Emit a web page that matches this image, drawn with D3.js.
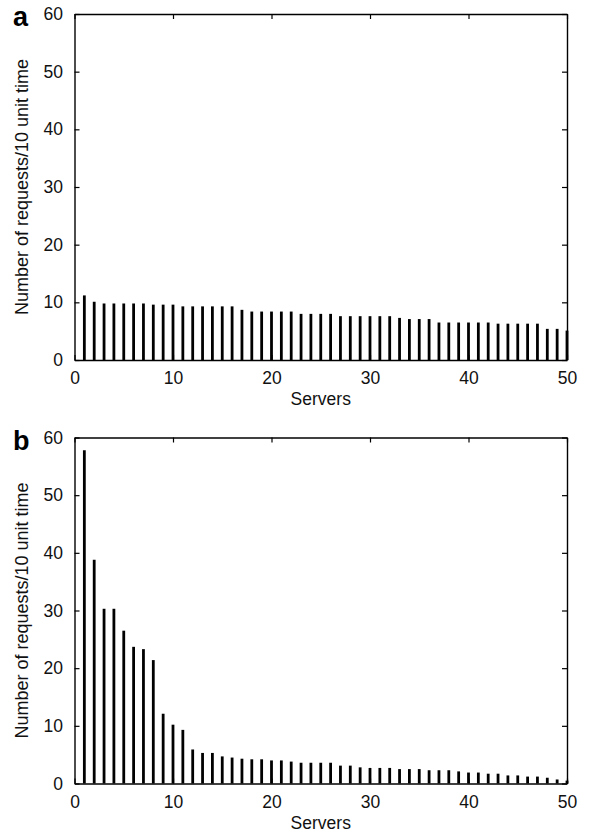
<!DOCTYPE html>
<html>
<head>
<meta charset="utf-8">
<script src="https://cdn.jsdelivr.net/npm/d3@7"></script>
<style>
  html, body { margin: 0; padding: 0; background: #fff; }
  svg { display: block; font-family: "Liberation Sans", Arial, sans-serif; }
</style>
</head>
<body>
<svg id="chart" width="591" height="833"></svg>
<script>
// ---- data ----
const servers = [1,2,3,4,5,6,7,8,9,10,11,12,13,14,15,16,17,18,19,20,21,22,23,24,25,
                 26,27,28,29,30,31,32,33,34,35,36,37,38,39,40,41,42,43,44,45,46,47,48,49,50];
const requestsA = [11.2,10.1,9.8,9.8,9.8,9.8,9.8,9.6,9.6,9.6,9.3,9.3,9.3,9.3,9.3,9.3,8.7,8.4,8.4,8.4,
                   8.4,8.4,8.0,8.0,8.0,8.0,7.6,7.6,7.6,7.6,7.6,7.6,7.3,7.1,7.1,7.1,6.5,6.5,6.5,6.5,
                   6.5,6.5,6.3,6.3,6.3,6.3,6.3,5.4,5.4,5.1];
const requestsB = [57.8,38.8,30.3,30.3,26.5,23.7,23.3,21.4,12.1,10.2,9.3,5.9,5.3,5.3,4.7,4.5,4.3,4.2,4.2,4.0,
                   4.0,3.8,3.6,3.6,3.6,3.6,3.1,3.1,2.8,2.7,2.7,2.7,2.5,2.5,2.5,2.3,2.3,2.3,2.1,1.9,
                   1.9,1.7,1.7,1.4,1.4,1.2,1.2,1.0,0.7,0.5];
const xTicks = [0,10,20,30,40,50];
const yTicks = [0,10,20,30,40,50,60];
const panelLabels = ["a","b"];
const xTitle = "Servers";
const yTitle = "Number of requests/10 unit time";

const svg = d3.select("#chart");
const FS = "17.5px";

function panel(values, label, top) {
  const left = 74.5, right = 567, bottom = top + 346;
  const x = d3.scaleLinear().domain([0, 50]).range([left, right]);
  const y = d3.scaleLinear().domain([0, 60]).range([bottom, top]);
  const g = svg.append("g");
  const tickLen = 5;

  // bars (impulses)
  g.selectAll("line.bar").data(servers).enter().append("line")
    .attr("class", "bar")
    .attr("x1", (d) => x(d)).attr("x2", (d) => x(d))
    .attr("y1", y(0)).attr("y2", (d, i) => y(values[i]))
    .attr("stroke", "#000").attr("stroke-width", 2.8);

  // axes via d3 axis generators, ticks pointing inward
  const axB = d3.axisBottom(x).tickValues(xTicks).tickSizeInner(-tickLen).tickSizeOuter(0).tickPadding(12);
  const axT = d3.axisTop(x).tickValues(xTicks).tickSizeInner(-tickLen).tickSizeOuter(0).tickFormat("");
  const axL = d3.axisLeft(y).tickValues(yTicks).tickSizeInner(-tickLen).tickSizeOuter(0).tickPadding(11.5);
  const axR = d3.axisRight(y).tickValues(yTicks).tickSizeInner(-tickLen).tickSizeOuter(0).tickFormat("");

  const gB = g.append("g").attr("transform", `translate(0,${bottom})`).call(axB);
  const gT = g.append("g").attr("transform", `translate(0,${top})`).call(axT);
  const gL = g.append("g").attr("transform", `translate(${left},0)`).call(axL);
  const gR = g.append("g").attr("transform", `translate(${right},0)`).call(axR);

  [gB, gT, gL, gR].forEach(a => {
    a.select(".domain").attr("stroke", "#000").attr("stroke-width", 1.4);
    a.selectAll(".tick line").attr("stroke", "#000").attr("stroke-width", 1.2);
    a.selectAll(".tick text").attr("fill", "#111").style("font-size", FS)
      .style("font-family", '"Liberation Sans", Arial, sans-serif');
  });

  // x title
  g.append("text").attr("x", (left + right) / 2).attr("y", bottom + 45)
    .attr("text-anchor", "middle").attr("fill", "#111").style("font-size", FS)
    .text(xTitle);

  // y title
  g.append("text")
    .attr("transform", `translate(28,${(top + bottom) / 2}) rotate(-90)`)
    .attr("text-anchor", "middle").attr("fill", "#111").style("font-size", "18px")
    .text(yTitle);

  // panel label
  g.append("text").attr("x", 13).attr("y", top + 12)
    .attr("fill", "#000").style("font-size", "27px").style("font-weight", "bold")
    .text(label);
}

panel(requestsA, panelLabels[0], 14);
panel(requestsB, panelLabels[1], 437.5);
</script>
</body>
</html>
